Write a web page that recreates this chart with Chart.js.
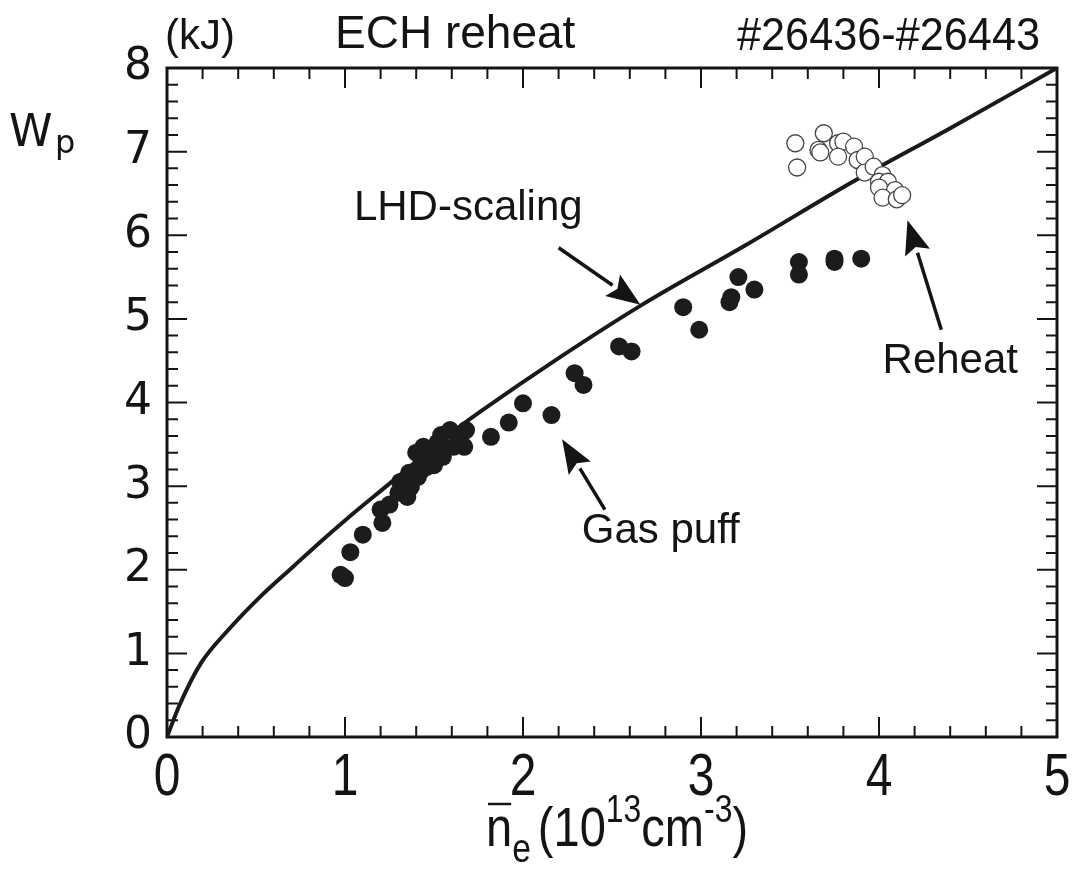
<!DOCTYPE html>
<html>
<head>
<meta charset="utf-8">
<title>ECH reheat</title>
<script src="https://cdn.jsdelivr.net/npm/chart.js@4.4.1/dist/chart.umd.min.js"></script>
<style>
  html, body { margin: 0; padding: 0; background: #fff; }
  #wp { display: block; }
</style>
</head>
<body>
<canvas id="wp" width="1078" height="869"></canvas>
<script>
// LHD-scaling curve (density in 1e13 cm^-3, stored energy in kJ)
const scalingNe = [0, 0.07, 0.19, 0.34, 0.52, 0.71, 0.86, 1.0, 1.25, 1.5, 1.65, 1.76, 2.2, 2.67, 3.25, 3.87, 4.4, 5.0];
const scalingWp = [0, 0.38, 0.88, 1.27, 1.67, 2.04, 2.33, 2.59, 3.03, 3.47, 3.72, 3.89, 4.53, 5.17, 5.88, 6.66, 7.28, 8.0];

// gas puff phase (filled dots)
const puffNe = [0.975, 1.0, 1.03, 1.10, 1.21, 1.20, 1.25, 1.30, 1.35, 1.31, 1.37, 1.36, 1.41, 1.40, 1.43, 1.46,
  1.44, 1.50, 1.52, 1.54, 1.59, 1.65, 1.67, 1.61, 1.55, 1.50, 1.43, 1.68, 1.82, 1.92, 2.0, 2.16, 2.29, 2.34,
  2.54, 2.61, 2.90, 2.99, 3.21, 3.17, 3.16, 3.30, 3.55, 3.55, 3.75, 3.75, 3.90];
const puffWp = [1.94, 1.90, 2.21, 2.42, 2.56, 2.72, 2.78, 2.92, 2.87, 3.05, 2.99, 3.16, 3.11, 3.40, 3.31, 3.23,
  3.47, 3.40, 3.52, 3.61, 3.67, 3.59, 3.47, 3.47, 3.35, 3.25, 3.19, 3.67, 3.59, 3.76, 3.99, 3.85, 4.35, 4.21,
  4.67, 4.61, 5.14, 4.87, 5.50, 5.26, 5.20, 5.35, 5.68, 5.53, 5.72, 5.68, 5.72];

// reheat phase (open circles)
const reheatNe = [3.53, 3.54, 3.69, 3.66, 3.67, 3.77, 3.80, 3.86, 3.77, 3.88, 3.92, 3.92, 3.97, 4.02, 4.00,
  4.05, 4.00, 4.09, 4.02, 4.10, 4.13];
const reheatWp = [7.10, 6.81, 7.22, 7.02, 6.99, 7.10, 7.12, 7.06, 6.94, 6.90, 6.94, 6.75, 6.82, 6.72, 6.64,
  6.64, 6.57, 6.54, 6.45, 6.43, 6.48];

const xTicks = [0, 1, 2, 3, 4, 5];
const yTicks = [0, 1, 2, 3, 4, 5, 6, 7, 8];

const toPoints = (xs, ys) => xs.map((x, i) => ({ x: x, y: ys[i] }));

const SANS = "'Liberation Sans', Arial, sans-serif";
const ROUND = "'DejaVu Sans', 'Liberation Sans', sans-serif";
const INK = '#141414';

// text squeezed horizontally, returns the drawn width
function condensed(ctx, text, x, y, size, squeeze) {
    ctx.save();
    ctx.font = size + 'px ' + SANS;
    ctx.translate(x, y);
    ctx.scale(squeeze, 1);
    ctx.fillText(text, 0, 0);
    const w = ctx.measureText(text).width * squeeze;
    ctx.restore();
    return w;
}

function textWidth(ctx, text, size, squeeze) {
    ctx.font = size + 'px ' + SANS;
    return ctx.measureText(text).width * squeeze;
}

function arrow(ctx, x1, y1, x2, y2) {
    const ang = Math.atan2(y2 - y1, x2 - x1);
    const headLen = 34, headW = 13;
    const bx = x2 - headLen * Math.cos(ang), by = y2 - headLen * Math.sin(ang);
    ctx.beginPath();
    ctx.moveTo(x1, y1);
    ctx.lineTo(bx, by);
    ctx.lineWidth = 3.5;
    ctx.stroke();
    ctx.beginPath();
    ctx.moveTo(x2, y2);
    ctx.lineTo(bx + headW * Math.sin(ang), by - headW * Math.cos(ang));
    ctx.lineTo(bx + 6 * Math.cos(ang), by + 6 * Math.sin(ang));
    ctx.lineTo(bx - headW * Math.sin(ang), by + headW * Math.cos(ang));
    ctx.closePath();
    ctx.fill();
}

// frame with inward ticks on all four sides, x labels in narrow type
const framePlugin = {
    id: 'frame',
    beforeDatasetsDraw(chart) {
        const { ctx, chartArea: a, scales: { x, y } } = chart;
        ctx.save();
        ctx.strokeStyle = INK;
        ctx.fillStyle = INK;
        ctx.lineWidth = 3;
        ctx.strokeRect(a.left, a.top, a.right - a.left, a.bottom - a.top);
        ctx.lineWidth = 2;
        ctx.beginPath();
        for (let i = 0; i <= 25; i++) {
            const v = i * 0.2;
            const len = i % 5 === 0 ? 20 : 11;
            const px = x.getPixelForValue(v);
            ctx.moveTo(px, a.bottom); ctx.lineTo(px, a.bottom - len);
            ctx.moveTo(px, a.top); ctx.lineTo(px, a.top + len);
        }
        for (let i = 0; i <= 40; i++) {
            const v = i * 0.2;
            const len = i % 5 === 0 ? 20 : 11;
            const py = y.getPixelForValue(v);
            ctx.moveTo(a.left, py); ctx.lineTo(a.left + len, py);
            ctx.moveTo(a.right, py); ctx.lineTo(a.right - len, py);
        }
        ctx.stroke();

        ctx.textBaseline = 'alphabetic';
        x.ticks.forEach(t => {
            const label = String(t.value);
            const w = textWidth(ctx, label, 60, 0.8);
            condensed(ctx, label, x.getPixelForValue(t.value) - w / 2, 795, 60, 0.8);
        });
        ctx.restore();
    }
};

// titles, axis names and the arrow notes
const notesPlugin = {
    id: 'notes',
    afterDraw(chart) {
        const { ctx, scales: { x, y } } = chart;
        ctx.save();
        ctx.fillStyle = INK;
        ctx.strokeStyle = INK;
        ctx.textBaseline = 'alphabetic';
        ctx.textAlign = 'left';

        ctx.font = '42px ' + SANS;
        ctx.fillText('(kJ)', 165, 49);
        condensed(ctx, 'ECH reheat', 335, 48, 46, 1.0);
        const shots = '#26436-#26443';
        condensed(ctx, shots, 1040 - textWidth(ctx, shots, 46, 0.94), 50, 46, 0.94);

        // W_p
        ctx.font = '44px ' + ROUND;
        ctx.fillText('W', 9, 146);
        ctx.font = '32px ' + ROUND;
        ctx.fillText('p', 55, 153);

        // n_e bar (10^13 cm^-3)
        const sq = 0.84;
        let cx = 486;
        const nW = condensed(ctx, 'n', cx, 846, 56, sq);
        ctx.lineWidth = 2.5;
        ctx.beginPath();
        ctx.moveTo(cx + 2, 804); ctx.lineTo(cx + nW - 1, 804);
        ctx.stroke();
        cx += nW;
        cx += condensed(ctx, 'e', cx, 862, 40, sq) + 7;
        const parts = [['(10', 56, 846], ['13', 38, 822], ['cm', 56, 846], ['-3', 38, 822], [')', 56, 846]];
        parts.forEach(([t, size, base]) => {
            cx += condensed(ctx, t, cx, base, size, sq);
        });

        // notes with arrows, anchored in data units
        ctx.font = '42px ' + SANS;
        ctx.fillText('LHD-scaling', x.getPixelForValue(1.05), y.getPixelForValue(6.18));
        ctx.fillText('Reheat', x.getPixelForValue(4.02), y.getPixelForValue(4.35));
        ctx.fillText('Gas puff', x.getPixelForValue(2.33), y.getPixelForValue(2.32));

        arrow(ctx, x.getPixelForValue(2.20), y.getPixelForValue(5.85), x.getPixelForValue(2.66), y.getPixelForValue(5.17));
        arrow(ctx, x.getPixelForValue(4.35), y.getPixelForValue(4.87), x.getPixelForValue(4.16), y.getPixelForValue(6.18));
        arrow(ctx, x.getPixelForValue(2.46), y.getPixelForValue(2.72), x.getPixelForValue(2.22), y.getPixelForValue(3.56));
        ctx.restore();
    }
};

new Chart(document.getElementById('wp'), {
    type: 'scatter',
    data: {
        datasets: [
            {
                label: 'Reheat',
                data: toPoints(reheatNe, reheatWp),
                pointRadius: 8.5,
                pointBackgroundColor: '#fff',
                pointBorderColor: '#444',
                pointBorderWidth: 1.3,
                order: 0
            },
            {
                label: 'Gas puff',
                data: toPoints(puffNe, puffWp),
                pointRadius: 9,
                pointBackgroundColor: '#1c1c1c',
                pointBorderColor: '#1c1c1c',
                pointBorderWidth: 0,
                order: 1
            },
            {
                label: 'LHD-scaling',
                data: toPoints(scalingNe, scalingWp),
                showLine: true,
                borderColor: '#1a1a1a',
                borderWidth: 4,
                pointRadius: 0,
                cubicInterpolationMode: 'monotone',
                order: 2
            }
        ]
    },
    options: {
        responsive: false,
        animation: false,
        devicePixelRatio: 1,
        layout: { padding: { top: 68, right: 21, bottom: 0, left: 0 } },
        plugins: {
            legend: { display: false },
            tooltip: { enabled: false }
        },
        scales: {
            x: {
                type: 'linear',
                min: 0,
                max: 5,
                afterFit: (s) => { s.height = 132; },
                afterBuildTicks: (s) => { s.ticks = xTicks.map(v => ({ value: v })); },
                grid: { display: false, drawTicks: false },
                border: { display: false },
                ticks: { display: false }
            },
            y: {
                type: 'linear',
                min: 0,
                max: 8,
                afterFit: (s) => { s.width = 167; },
                afterBuildTicks: (s) => { s.ticks = yTicks.map(v => ({ value: v })); },
                grid: { display: false, drawTicks: false },
                border: { display: false },
                ticks: {
                    padding: 15,
                    color: INK,
                    font: { family: ROUND, size: 44 }
                }
            }
        }
    },
    plugins: [framePlugin, notesPlugin]
});
</script>
</body>
</html>
